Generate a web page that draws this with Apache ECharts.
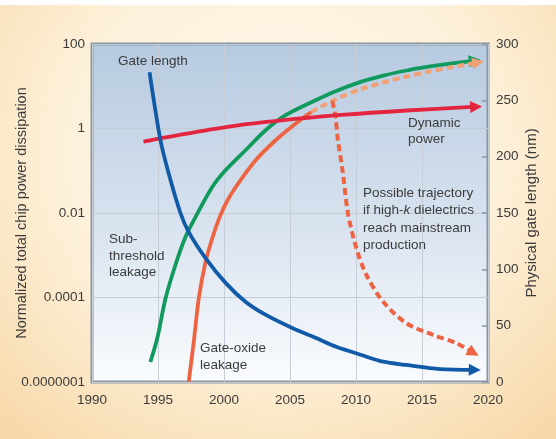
<!DOCTYPE html>
<html><head><meta charset="utf-8">
<script src="https://cdn.jsdelivr.net/npm/echarts@6/dist/echarts.min.js"></script>
<style>
html,body{margin:0;padding:0;width:556px;height:439px;overflow:hidden;}
body{background:
  linear-gradient(#ffffff 0px,#ffffff 4px,rgba(255,255,255,0) 6px),
  radial-gradient(ellipse 72% 85% at 50% 35%, #fffaf1 0%, #fdf0d9 55%, #f7d9a9 100%);}
#chart{width:556px;height:439px;}
</style></head><body><div id="chart"></div>
<script>
// ---- axis ticks ----
const xTicks = [1990, 1995, 2000, 2005, 2010, 2015, 2020];
const leftTickValues = [1e-6, 1e-4, 1e-2, 1, 100];
const leftTickLabels = ['0.0000001', '0.0001', '0.01', '1', '100'];
const rightTicks = [0, 50, 100, 150, 200, 250, 300];

// ---- Gate length (nm, right axis) ----
const gateYears = [1994.36, 1995.18, 1995.81, 1996.70, 1997.33, 1998.60, 2000.12, 2001.65, 2003.17, 2005.21, 2006.98, 2008.50, 2010.41, 2012.06, 2013.83, 2016.35, 2019.0];
const gateNm    = [275, 215, 185, 150, 133, 110, 88, 71, 59.5, 47.7, 39, 31.3, 24, 18, 15.1, 11.5, 10.8];

// ---- Sub-threshold leakage (left axis) ----
const subYears = [1994.42, 1994.95, 1995.56, 1996.32, 1997.08, 1997.84, 1999.11, 2000.13, 2001.65, 2003.17, 2004.70, 2006.98, 2008.50, 2010.41, 2012.06, 2013.83, 2015.36, 2017.13, 2019.0];
const subVals  = [2.97e-6, 1.10e-5, 9.2e-5, 5.87e-4, 2.70e-3, 8.0e-3, 0.0412, 0.104, 0.310, 0.92, 2.09, 4.73, 7.73, 12.9, 17.9, 23.6, 28.6, 34.5, 40.6];

// ---- Gate-oxide leakage (left axis, solid) ----
const oxYears = [1997.33, 1997.71, 1998.09, 1998.60, 1999.14, 1999.67, 2000.20, 2000.89, 2002.41, 2003.93, 2005.46, 2006.60];
const oxVals  = [1.02e-6, 9.0e-6, 9.6e-5, 6.9e-4, 2.70e-3, 8.0e-3, 0.0182, 0.0412, 0.179, 0.535, 1.33, 2.46];

// ---- Gate-oxide leakage projection (dashed, upper) ----
const oxProjYears = [2006.60, 2008.50, 2010.41, 2012.06, 2013.83, 2015.36, 2017.13, 2019.25];
const oxProjVals  = [2.46, 4.99, 8.61, 12.3, 17.0, 21.7, 27.8, 36.5];

// ---- High-k trajectory (dashed, lower) ----
const highKYears = [2008.20, 2008.43, 2008.63, 2009.01, 2009.39, 2010.03, 2010.79, 2012.06, 2013.83, 2015.87, 2017.64, 2018.9];
const highKVals  = [4.5, 2.09, 0.535, 0.0871, 9.84e-3, 1.46e-3, 3.41e-4, 7.9e-5, 2.45e-5, 1.29e-5, 8.2e-6, 4.9e-6];

// ---- Dynamic power (left axis) ----
const dynYears = [1993.90, 1995.18, 2000.13, 2004.32, 2008.88, 2013.83, 2019.1];
const dynVals  = [0.488, 0.586, 1.08, 1.55, 2.09, 2.67, 3.28];

const pairs = (xs, ys) => xs.map((x, i) => [x, ys[i]]);
const lastSeg = (xs, ys) => [[xs[xs.length - 2], ys[ys.length - 2]], [xs[xs.length - 1], ys[ys.length - 1]]];

const C = {
  blue: '#105aa8', green: '#119a5d', red: '#e4253f', orange: '#ee6443', peach: '#f2a177', text: '#3b3b3b',
  frame: '#8896a4', grid: '#c6cdd7'
};
const FONT = '"Liberation Sans", Arial, sans-serif';
const FS = 13.5;

function lineSeries(name, xs, ys, color, yIdx, z, dashed) {
  return {
    name, type: 'line', yAxisIndex: yIdx, data: pairs(xs, ys), smooth: 0.3,
    showSymbol: false, symbol: 'none', z,
    lineStyle: { color, width: dashed ? 4 : 3.8, type: dashed ? [7, 4] : 'solid', cap: 'butt' }
  };
}
function arrowSeries(xs, ys, color, yIdx, z) {
  return {
    type: 'lines', coordinateSystem: 'cartesian2d', xAxisIndex: 0, yAxisIndex: yIdx, z,
    symbol: ['none', 'triangle'], symbolSize: 12, silent: true,
    lineStyle: { color, width: 0.01, opacity: 1 },
    data: [{ coords: lastSeg(xs, ys) }]
  };
}

const chart = echarts.init(document.getElementById('chart'), null, { renderer: 'canvas' });
const option = {
  animation: false,
  textStyle: { fontFamily: FONT },
  grid: {
    left: 92, right: 68, top: 44, bottom: 57, show: true, containLabel: false, outerBoundsMode: 'none',
    borderColor: C.frame, borderWidth: 3,
    backgroundColor: new echarts.graphic.LinearGradient(0, 0, 0, 1, [
      { offset: 0, color: '#b6cae0' }, { offset: 0.5, color: '#d6e1ee' }, { offset: 1, color: '#fafcfe' }
    ])
  },
  xAxis: {
    type: 'value', min: xTicks[0], max: xTicks[xTicks.length - 1], interval: 5,
    axisLine: { show: false }, axisTick: { show: false },
    splitLine: { show: true, lineStyle: { color: C.grid, width: 1 } },
    axisLabel: { color: C.text, fontSize: FS, fontFamily: FONT, margin: 11, formatter: v => String(v) }
  },
  yAxis: [
    {
      type: 'log', logBase: 100, min: leftTickValues[0], max: leftTickValues[leftTickValues.length - 1],
      name: 'Normalized total chip power dissipation', nameLocation: 'middle', nameRotate: 90, nameGap: 63,
      nameMoveOverlap: false,
      nameTextStyle: { color: C.text, fontSize: 14.5, fontFamily: FONT },
      axisLine: { show: false }, axisTick: { show: false },
      splitLine: { show: true, lineStyle: { color: C.grid, width: 1 } },
      axisLabel: {
        color: C.text, fontSize: FS, fontFamily: FONT, margin: 7,
        formatter: v => {
          const e = Math.round(Math.log10(v));
          const i = leftTickValues.findIndex(t => Math.round(Math.log10(t)) === e);
          return i >= 0 ? leftTickLabels[i] : '';
        }
      }
    },
    {
      type: 'value', min: rightTicks[0], max: rightTicks[rightTicks.length - 1], interval: 50, position: 'right',
      name: 'Physical gate length (nm)', nameLocation: 'middle', nameRotate: 90, nameGap: 36,
      nameMoveOverlap: false,
      nameTextStyle: { color: C.text, fontSize: 15, fontFamily: FONT },
      axisLine: { show: false },
      axisTick: { show: true, inside: true, length: 6, lineStyle: { color: C.frame, width: 1.5 } },
      splitLine: { show: false },
      axisLabel: { color: C.text, fontSize: FS, fontFamily: FONT, margin: 8 }
    }
  ],
  series: [
    lineSeries('Sub-threshold leakage', subYears, subVals, C.green, 0, 2, false),
    arrowSeries(subYears, subVals, C.green, 0, 2),
    lineSeries('Gate-oxide leakage', oxYears, oxVals, C.orange, 0, 3, false),
    lineSeries('Gate-oxide projection', oxProjYears, oxProjVals, C.peach, 0, 3, true),
    arrowSeries(oxProjYears, oxProjVals, C.peach, 0, 3),
    lineSeries('High-k trajectory', highKYears, highKVals, C.orange, 0, 3, true),
    arrowSeries(highKYears, highKVals, C.orange, 0, 3),
    lineSeries('Dynamic power', dynYears, dynVals, C.red, 0, 4, false),
    arrowSeries(dynYears, dynVals, C.red, 0, 4),
    lineSeries('Gate length', gateYears, gateNm, C.blue, 1, 5, false),
    arrowSeries(gateYears, gateNm, C.blue, 1, 5)
  ],
  graphic: [
    { type: 'text', x: 118, y: 61, z: 10, style: { text: 'Gate length', font: `${FS}px ${FONT}`, fill: C.text, textAlign: 'left', textVerticalAlign: 'middle' } },
    { type: 'text', x: 109, y: 231.5, z: 10, style: { text: 'Sub-\nthreshold\nleakage', font: `${FS}px ${FONT}`, fill: C.text, lineHeight: 16.5, textAlign: 'left', textVerticalAlign: 'top' } },
    { type: 'text', x: 200, y: 339.5, z: 10, style: { text: 'Gate-oxide\nleakage', font: `${FS}px ${FONT}`, fill: C.text, lineHeight: 17, textAlign: 'left', textVerticalAlign: 'top' } },
    { type: 'text', x: 408, y: 115, z: 10, style: { text: 'Dynamic\npower', font: `${FS}px ${FONT}`, fill: C.text, lineHeight: 16, textAlign: 'left', textVerticalAlign: 'top' } },
    { type: 'text', x: 363, y: 184, z: 10, style: {
        text: 'Possible trajectory\nif high-{i|k} dielectrics\nreach mainstream\nproduction',
        font: `${FS}px ${FONT}`, fill: C.text, lineHeight: 17.6, textAlign: 'left', textVerticalAlign: 'top',
        rich: { i: { fontStyle: 'italic', fontSize: FS, fontFamily: FONT, fill: C.text, lineHeight: 17.6 } }
    } }
  ]
};
chart.setOption(option);
</script>
</body></html>
